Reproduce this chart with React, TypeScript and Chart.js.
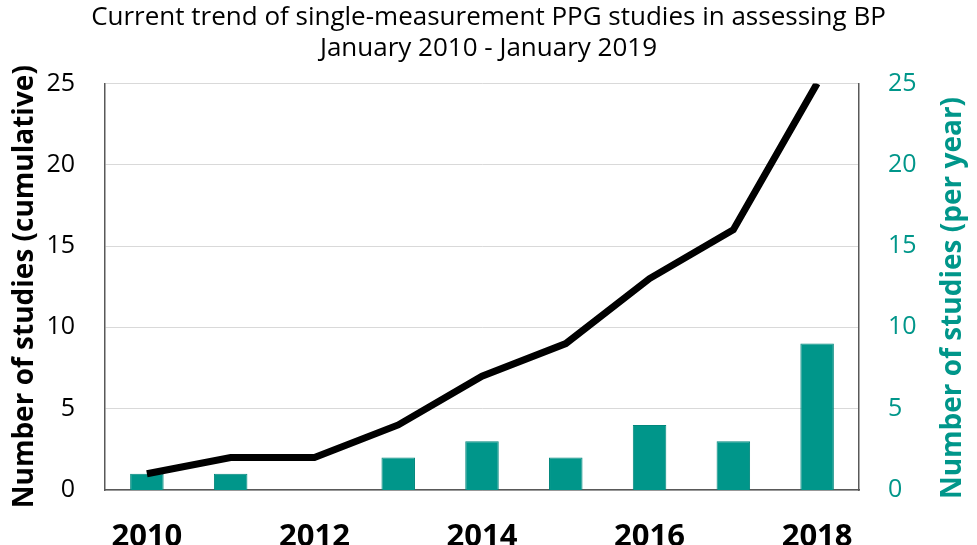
import React, { useEffect, useRef } from "react";
import { Chart, registerables } from "chart.js";

Chart.register(...registerables);

const years = ["2010", "2011", "2012", "2013", "2014", "2015", "2016", "2017", "2018"];
const cumulative = [1, 2, 2, 4, 7, 9, 13, 16, 25];
const perYear = [1, 1, 0, 2, 3, 2, 4, 3, 9];
const titleLines = [
  "Current trend of single-measurement PPG studies in assessing BP",
  "January 2010 - January 2019",
];
const leftTitle = "Number of studies (cumulative)";
const rightTitle = "Number of studies (per year)";

const TEAL = "#00968a";
const FONT = "'Open Sans', sans-serif";

const rightTitlePlugin = {
  id: "rightTitle",
  afterDraw(chart: any) {
    const ctx = chart.ctx;
    ctx.save();
    ctx.translate(953, 298);
    ctx.rotate(-Math.PI / 2);
    ctx.font = `bold 28px ${FONT}`;
    ctx.fillStyle = TEAL;
    ctx.textAlign = "center";
    ctx.textBaseline = "middle";
    ctx.fillText(rightTitle, 0, 0);
    ctx.restore();
  },
};

export default function App() {
  const ref = useRef<HTMLCanvasElement | null>(null);
  useEffect(() => {
    document.body.style.margin = "0";
    Chart.defaults.font.family = FONT;
    const chart = new Chart(ref.current as HTMLCanvasElement, {
      data: {
        labels: years,
        datasets: [
          {
            type: "line",
            label: "Cumulative",
            data: cumulative,
            yAxisID: "y",
            borderColor: "#000",
            borderWidth: 7,
            pointRadius: 0,
            tension: 0,
            borderCapStyle: "butt",
            borderJoinStyle: "miter",
            clip: 0,
            order: 1,
          } as any,
          {
            type: "bar",
            label: "Per year",
            data: perYear,
            yAxisID: "y1",
            backgroundColor: TEAL,
            borderColor: "#00877c",
            borderWidth: 1,
            categoryPercentage: 1,
            barPercentage: 0.4,
            order: 2,
          } as any,
        ],
      },
      options: {
        responsive: false,
        animation: false,
        layout: { padding: 0 },
        plugins: {
          legend: { display: false },
          tooltip: { enabled: false },
          title: {
            display: true,
            text: titleLines,
            color: "#000",
            font: { size: 26, weight: "normal", family: FONT, lineHeight: 1.2 },
            padding: { top: 2, bottom: 19 },
          },
        },
        scales: {
          x: {
            offset: true,
            grid: { display: false },
            border: { display: true, color: "#595959", width: 1.5 },
            ticks: {
              autoSkip: false,
              maxRotation: 0,
              color: "#000",
              padding: 21,
              font: { size: 31, weight: "bold", family: FONT },
              callback: (_v: any, i: number) => (i % 2 === 0 ? years[i] : ""),
            },
            afterFit: (s: any) => {
              s.height = 55;
            },
          },
          y: {
            position: "left",
            min: 0,
            max: 25,
            ticks: { stepSize: 5, color: "#000", padding: 30, font: { size: 25, family: FONT } },
            grid: { color: "#d9d9d9", lineWidth: 1, drawTicks: false },
            border: { display: true, color: "#595959", width: 1.5 },
            title: {
              display: true,
              text: leftTitle,
              color: "#000",
              font: { size: 28, weight: "bold", family: FONT },
              padding: { top: 8, bottom: 0 },
            },
            afterFit: (s: any) => {
              s.width = 105;
            },
          },
          y1: {
            position: "right",
            min: 0,
            max: 25,
            ticks: { stepSize: 5, color: TEAL, padding: 29, font: { size: 25, family: FONT } },
            grid: { display: false, drawTicks: false },
            border: { display: true, color: "#595959", width: 1.5 },
            afterFit: (s: any) => {
              s.width = 118;
            },
          },
        },
      },
      plugins: [rightTitlePlugin],
    } as any);
    return () => chart.destroy();
  }, []);
  return (
    <div style={{ width: 977, height: 545 }}>
      <canvas ref={ref} width={977} height={545} />
    </div>
  );
}
